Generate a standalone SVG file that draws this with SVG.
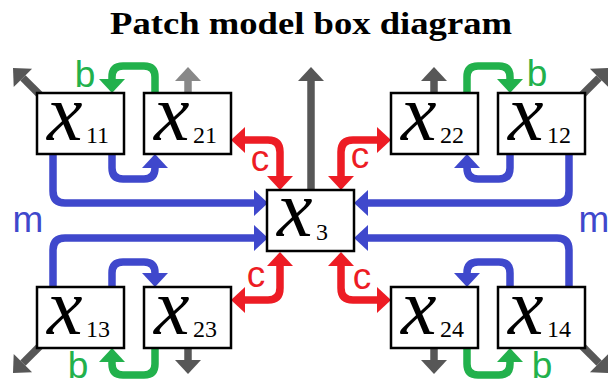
<svg xmlns="http://www.w3.org/2000/svg" width="608" height="383" viewBox="0 0 608 383">
<style>
.c{fill:none;stroke-width:7.5;stroke-linecap:butt;stroke-linejoin:round}
.bl{stroke:#3F48CC}.gr{stroke:#22B14C}.rd{stroke:#ED1C24}.dg{stroke:#575757}.lg{stroke:#888888}
.box{fill:#fff;stroke:#000;stroke-width:2.5}
.v{font-family:"Liberation Serif","Times New Roman",serif;font-style:italic;font-size:80px;fill:#000}
.s{font-family:"Liberation Serif","Times New Roman",serif;font-size:24px;fill:#000}
.lab{font-family:"Liberation Sans",Arial,sans-serif;font-size:37px;text-anchor:middle}
.title{font-family:"Liberation Serif","Times New Roman",serif;font-weight:bold;font-size:32px;text-anchor:middle;fill:#000}
</style>
<defs>
<marker id="ab" markerUnits="userSpaceOnUse" markerWidth="14" markerHeight="26" refX="0" refY="13" orient="auto-start-reverse" overflow="visible"><path d="M0,0 L14,13 L0,26 z" fill="#3F48CC"/></marker>
<marker id="ag" markerUnits="userSpaceOnUse" markerWidth="14" markerHeight="26" refX="0" refY="13" orient="auto-start-reverse" overflow="visible"><path d="M0,0 L14,13 L0,26 z" fill="#22B14C"/></marker>
<marker id="ar" markerUnits="userSpaceOnUse" markerWidth="14" markerHeight="26" refX="0" refY="13" orient="auto-start-reverse" overflow="visible"><path d="M0,0 L14,13 L0,26 z" fill="#ED1C24"/></marker>
<marker id="ad" markerUnits="userSpaceOnUse" markerWidth="14" markerHeight="26" refX="0" refY="13" orient="auto-start-reverse" overflow="visible"><path d="M0,0 L14,13 L0,26 z" fill="#575757"/></marker>
<marker id="al" markerUnits="userSpaceOnUse" markerWidth="14" markerHeight="26" refX="0" refY="13" orient="auto-start-reverse" overflow="visible"><path d="M0,0 L14,13 L0,26 z" fill="#888888"/></marker>
</defs>
<text class="title" x="311" y="34" textLength="402" lengthAdjust="spacingAndGlyphs">Patch model box diagram</text>
<g id="connectors">
<path class="c dg" d="M311,196 V81" marker-end="url(#ad)"/>
<path class="c lg" d="M188,96 V81" marker-end="url(#al)"/>
<path class="c dg" d="M434,96 V81" marker-end="url(#ad)"/>
<path class="c dg" d="M188,345 V360" marker-end="url(#ad)"/>
<path class="c dg" d="M434,345 V360" marker-end="url(#ad)"/>
<path class="c dg" d="M44,99 L22.9,77.9" marker-end="url(#ad)"/>
<path class="c dg" d="M578,99 L599.1,77.9" marker-end="url(#ad)"/>
<path class="c dg" d="M44,342 L22.9,363.1" marker-end="url(#ad)"/>
<path class="c dg" d="M578,342 L599.1,363.1" marker-end="url(#ad)"/>
<path class="c bl" d="M53,150 V191 Q53,203 65,203 H254" marker-end="url(#ab)"/>
<path class="c bl" d="M569,150 V191 Q569,203 557,203 H368" marker-end="url(#ab)"/>
<path class="c bl" d="M53,291 V250 Q53,238 65,238 H254" marker-end="url(#ab)"/>
<path class="c bl" d="M569,291 V250 Q569,238 557,238 H368" marker-end="url(#ab)"/>
<path class="c bl" d="M112,150 V168 Q112,179 123,179 H144 Q155,179 155,168" marker-end="url(#ab)"/>
<path class="c bl" d="M510,150 V168 Q510,179 499,179 H478 Q467,179 467,168" marker-end="url(#ab)"/>
<path class="c bl" d="M112,291 V273 Q112,262 123,262 H144 Q155,262 155,273" marker-end="url(#ab)"/>
<path class="c bl" d="M510,291 V273 Q510,262 499,262 H478 Q467,262 467,273" marker-end="url(#ab)"/>
<path class="c gr" d="M155,96 V77 Q155,66 144,66 H123 Q112,66 112,77 V79" marker-end="url(#ag)"/>
<path class="c gr" d="M467,96 V77 Q467,66 478,66 H499 Q510,66 510,77 V79" marker-end="url(#ag)"/>
<path class="c gr" d="M155,345 V364 Q155,375 144,375 H123 Q112,375 112,364 V362" marker-end="url(#ag)"/>
<path class="c gr" d="M467,345 V364 Q467,375 478,375 H499 Q510,375 510,364 V362" marker-end="url(#ag)"/>
<path class="c rd" d="M245,140 H268 Q280,140 280,152 V176" marker-start="url(#ar)" marker-end="url(#ar)"/>
<path class="c rd" d="M377,140 H353 Q341,140 341,152 V176" marker-start="url(#ar)" marker-end="url(#ar)"/>
<path class="c rd" d="M280,266 V288 Q280,300 268,300 H245" marker-start="url(#ar)" marker-end="url(#ar)"/>
<path class="c rd" d="M341,266 V288 Q341,300 353,300 H377" marker-start="url(#ar)" marker-end="url(#ar)"/>
</g>
<g id="labels">
<text class="lab" x="85" y="87" fill="#22B14C">b</text>
<text class="lab" x="537" y="86" fill="#22B14C">b</text>
<text class="lab" x="78" y="378" fill="#22B14C">b</text>
<text class="lab" x="542" y="378" fill="#22B14C">b</text>
<text class="lab" x="260" y="171" fill="#ED1C24">c</text>
<text class="lab" x="360" y="168" fill="#ED1C24">c</text>
<text class="lab" x="256" y="287" fill="#ED1C24">c</text>
<text class="lab" x="362" y="289" fill="#ED1C24">c</text>
<text class="lab" x="28" y="232" fill="#3F48CC">m</text>
<text class="lab" x="594" y="232" fill="#3F48CC">m</text>
</g>
<g id="x11"><rect class="box" x="37" y="93" width="87" height="61"/><text class="v" x="47" y="140">x</text><text class="s" x="86" y="143">11</text></g>
<g id="x21"><rect class="box" x="144" y="93" width="87" height="61"/><text class="v" x="154" y="140">x</text><text class="s" x="193" y="143">21</text></g>
<g id="x22"><rect class="box" x="391" y="93" width="87" height="61"/><text class="v" x="401" y="140">x</text><text class="s" x="440" y="143">22</text></g>
<g id="x12"><rect class="box" x="498" y="93" width="87" height="61"/><text class="v" x="508" y="140">x</text><text class="s" x="547" y="143">12</text></g>
<g id="x3"><rect class="box" x="267" y="190" width="87" height="61"/><text class="v" x="277" y="236">x</text><text class="s" x="316" y="240">3</text></g>
<g id="x13"><rect class="box" x="37" y="287" width="87" height="61"/><text class="v" x="47" y="334">x</text><text class="s" x="86" y="337">13</text></g>
<g id="x23"><rect class="box" x="144" y="287" width="87" height="61"/><text class="v" x="154" y="334">x</text><text class="s" x="193" y="337">23</text></g>
<g id="x24"><rect class="box" x="391" y="287" width="87" height="61"/><text class="v" x="401" y="334">x</text><text class="s" x="440" y="337">24</text></g>
<g id="x14"><rect class="box" x="498" y="287" width="87" height="61"/><text class="v" x="508" y="334">x</text><text class="s" x="547" y="337">14</text></g>
</svg>
